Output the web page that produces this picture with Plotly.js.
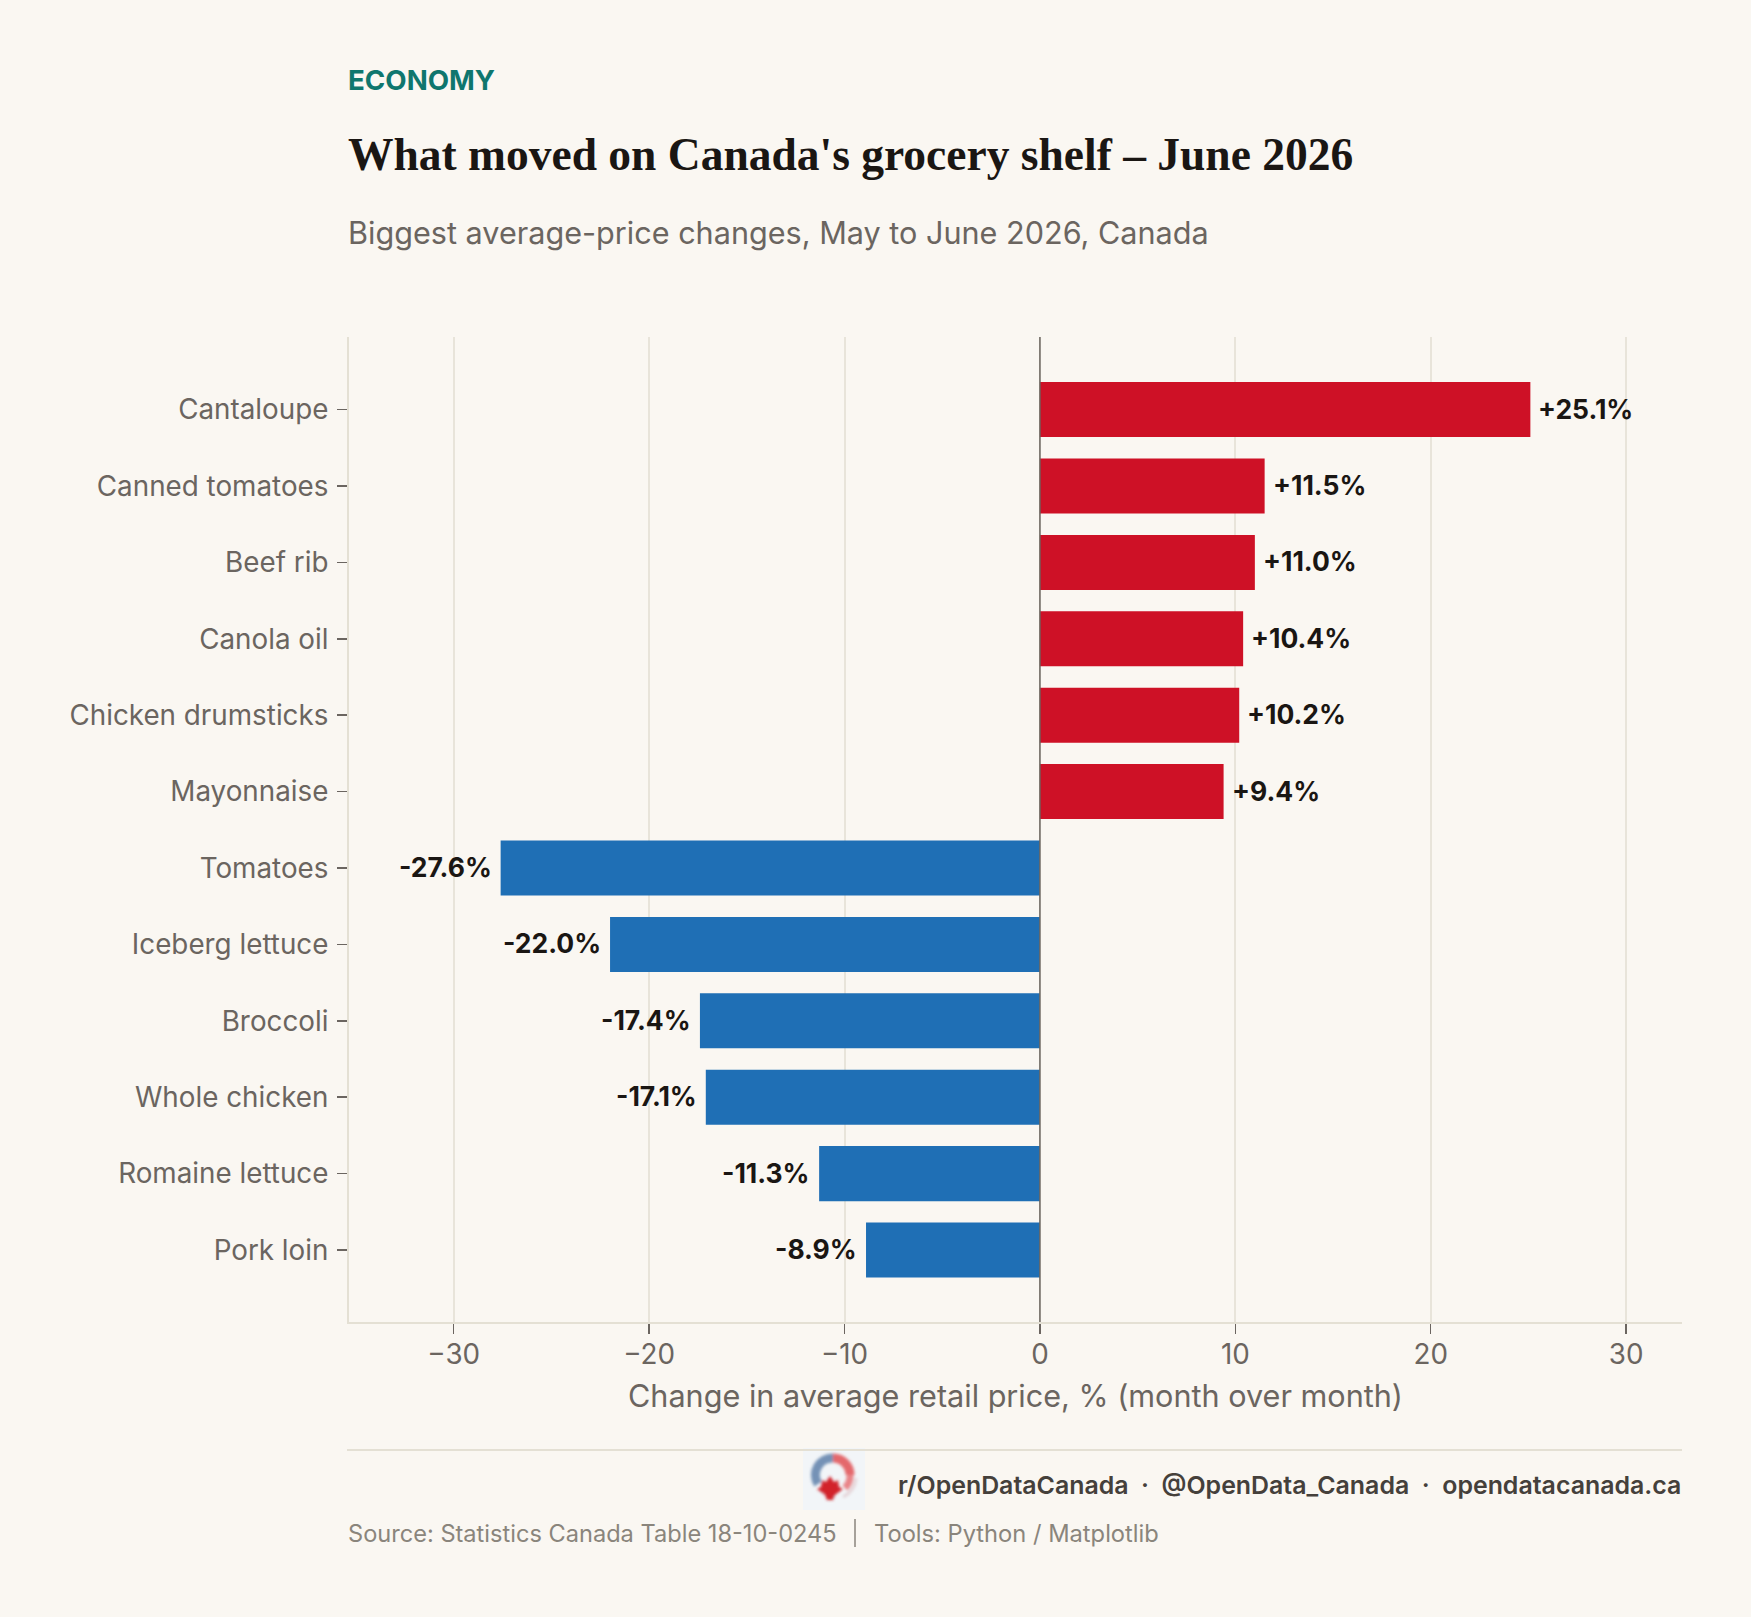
<!DOCTYPE html>
<html><head><meta charset="utf-8">
<script src="https://cdn.plot.ly/plotly-3.0.1.min.js"></script>
<style>html,body{margin:0;padding:0;background:#FAF7F2}#c{width:1751px;height:1617px}</style>
</head><body><div id="c"></div>
<script>
const categories = ["Cantaloupe","Canned tomatoes","Beef rib","Canola oil","Chicken drumsticks","Mayonnaise","Tomatoes","Iceberg lettuce","Broccoli","Whole chicken","Romaine lettuce","Pork loin"];
const changes = [25.1,11.5,11.0,10.4,10.2,9.4,-27.6,-22.0,-17.4,-17.1,-11.3,-8.9];
const xTicks = [-30,-20,-10,0,10,20,30];
const xTickLabels = ["−30","−20","−10","0","10","20","30"];
const W=1751,H=1617,L=349,R=1682,T=337,B=1322;
const SANS="Inter, 'Noto Sans', sans-serif";
const pw=R-L,ph=B-T;
const fx=x=>(x-L)/pw, fy=y=>(B-y)/ph;
const labels=changes.map(v=>(v>0?"+":"-")+Math.abs(v).toFixed(1)+"%");
const colors=changes.map(v=>v>0?"#CE1126":"#1F6FB5");
function note(text,x,y,size,color,weight,family,anchor){
  return {text,xref:"paper",yref:"paper",x:fx(x),y:fy(y),xanchor:anchor||"left",yanchor:"middle",showarrow:false,borderpad:0,
    font:{size,color,weight:weight||400,family:family||SANS}};
}
const logo=`<svg xmlns="http://www.w3.org/2000/svg" width="124" height="124" viewBox="0 0 62 62"><defs><filter id="b" x="-30%" y="-30%" width="160%" height="160%"><feGaussianBlur stdDeviation="1.5"/></filter></defs><rect width="62" height="62" fill="#F2F5F8"/><g filter="url(#b)" fill="none" stroke-width="9"><path d="M30 10 A17 17 0 0 0 15 36" stroke="#7492B6"/><path d="M19 41 A17 17 0 0 0 32 47" stroke="#C3D0DF" stroke-width="6"/><path d="M30 10 A17 17 0 0 1 47 27" stroke="#E4686C"/><path d="M47 27 A17 17 0 0 1 42 40" stroke="#E98488" stroke-width="7"/><path d="M40 49 A24 24 0 0 0 53 30" stroke="#E5D4D8" stroke-width="3"/><path d="M27 28 L31 34 L35 32 L36 39 L40 41 L32 47 L30 52 L24 52 L22 47 L14 41 L18 39 L19 32 L23 34 Z" fill="#D2202A" stroke="none"/></g></svg>`;
const data=[{type:"bar",orientation:"h",y:categories,x:changes,marker:{color:colors,line:{width:0}},width:0.72,hoverinfo:"skip"}];
const valueNotes=changes.map((v,i)=>({text:labels[i],xref:"x",yref:"y",x:v,y:categories[i],xanchor:v>0?"left":"right",yanchor:"middle",
  xshift:v>0?7:-8,yshift:1,showarrow:false,borderpad:0,font:{family:SANS,size:26.5,color:"#1A1613",weight:700}}));
const layout={width:W,height:H,paper_bgcolor:"#FAF7F2",plot_bgcolor:"#FAF7F2",showlegend:false,
  margin:{l:L,r:W-R,t:T,b:H-B,pad:0},
  font:{family:SANS},
  xaxis:{range:[-35.36,32.86],tickmode:"array",tickvals:xTicks,ticktext:xTickLabels,showgrid:true,gridcolor:"#E8E4DA",gridwidth:2,zeroline:false,
    showline:true,linecolor:"#E4E0D4",linewidth:2,ticks:"outside",ticklen:10,tickwidth:1.5,tickcolor:"#6B6560",ticklabelstandoff:-3,
    tickfont:{size:27.8,color:"#6B6560",family:SANS},automargin:false,
    title:{text:"Change in average retail price, % (month over month)",font:{size:30.6,color:"#6B6560",family:SANS},standoff:15}},
  yaxis:{type:"category",categoryorder:"array",categoryarray:categories,range:[11.942,-0.95],showgrid:false,zeroline:false,
    showline:true,linecolor:"#E4E0D4",linewidth:2,ticks:"outside",ticklen:10,tickwidth:1.5,tickcolor:"#6B6560",ticklabelstandoff:3,
    tickfont:{size:27.8,color:"#6B6560",family:SANS},automargin:false},
  shapes:[
    {type:"line",xref:"x",yref:"paper",x0:0,x1:0,y0:0,y1:1,line:{color:"#6B6560",width:1.5},layer:"above"},
    {type:"line",xref:"paper",yref:"paper",x0:fx(347),x1:1,y0:fy(1450),y1:fy(1450),line:{color:"#E4E0D4",width:2}},
    {type:"line",xref:"paper",yref:"paper",x0:fx(855),x1:fx(855),y0:fy(1519),y1:fy(1547),line:{color:"#8A857C",width:1.5}}
  ],
  annotations:[
    note("ECONOMY",347,80,27.7,"#0F766E",700),
    note("What moved on Canada's grocery shelf – June 2026",347,155,45.5,"#1A1613",700,"'Liberation Serif', serif"),
    note("Biggest average-price changes, May to June 2026, Canada",347,232,30.6,"#6B6560"),
    note("r/OpenDataCanada  ·  @OpenData_Canada  ·  opendatacanada.ca",1682,1485,24.9,"#45403B",600,SANS,"right"),
    note("Source: Statistics Canada Table 18-10-0245",347,1533,23.6,"#8A857C"),
    note("Tools: Python / Matplotlib",873,1533,23.7,"#8A857C")
  ].concat(valueNotes),
  images:[{source:"data:image/svg+xml;utf8,"+encodeURIComponent(logo),xref:"paper",yref:"paper",x:fx(803),y:fy(1448),sizex:62/pw,sizey:62/ph,sizing:"stretch",xanchor:"left",yanchor:"top",layer:"above"}]
};
Plotly.newPlot("c",data,layout,{displayModeBar:false,staticPlot:true});
</script></body></html>
